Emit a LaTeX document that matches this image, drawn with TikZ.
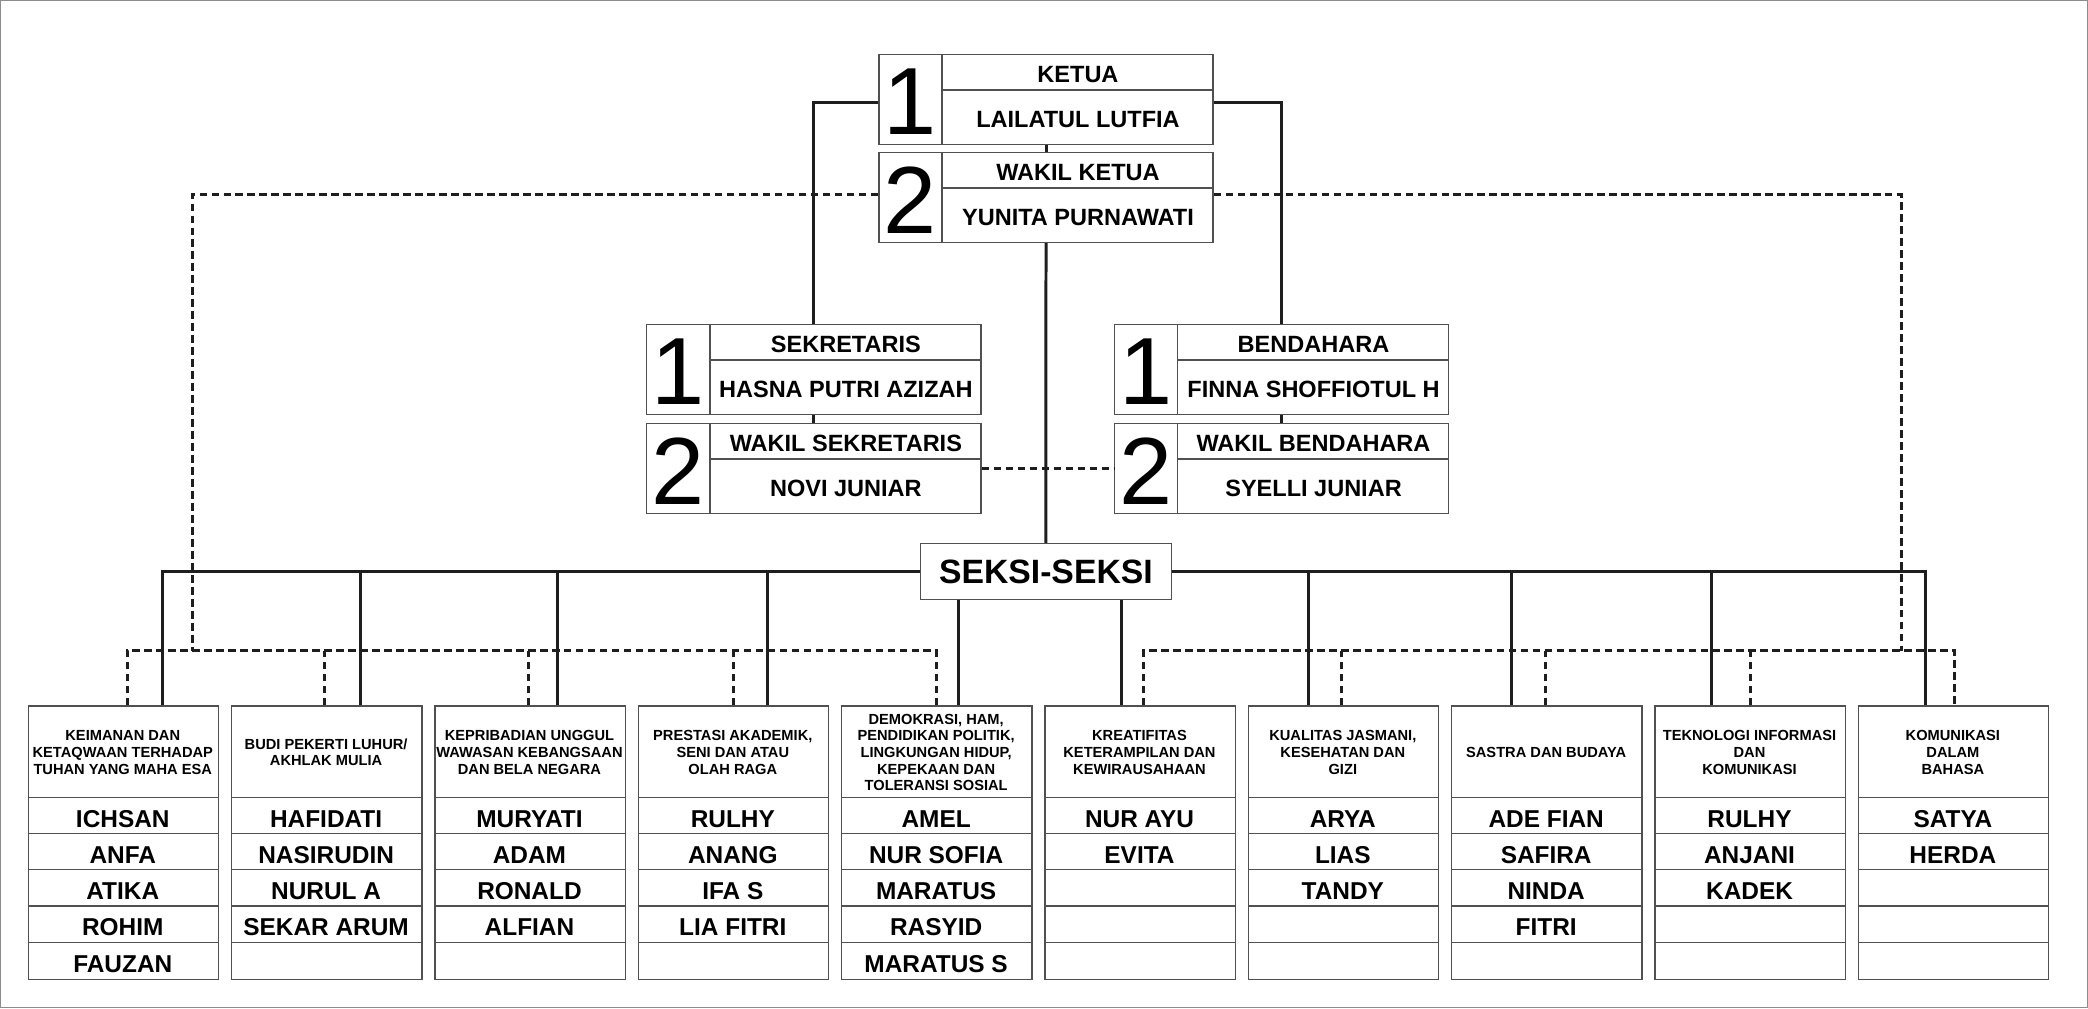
\documentclass[tikz,border=0pt]{standalone}
\usepackage{fontspec}
\setmainfont{Liberation Sans}
\usetikzlibrary{calc}
\definecolor{lnc}{HTML}{1E1E1E}
\definecolor{bxc}{HTML}{505050}
\tikzset{
  conn/.style={draw=lnc, line width=1.35pt},
  dsh/.style={draw=lnc, line width=1.35pt, dash pattern=on 3.4pt off 2pt},
  frame/.style={draw=bxc, line width=0.6pt, fill=white, rectangle, inner sep=0pt},
  cell/.style={draw=bxc, line width=0.6pt},
  toptxt/.style={font=\fontsize{10.6}{12}\selectfont\bfseries, text height=7.4pt, text depth=0pt, inner sep=0pt},
  numtxt/.style={font=\fontsize{43}{45}\selectfont, inner sep=0pt},
  nametxt/.style={font=\fontsize{11}{13}\selectfont\bfseries, text height=7.7pt, text depth=0pt, inner sep=0pt},
  hdrtxt/.style={font=\fontsize{6.6}{7.5}\selectfont\bfseries, align=center, inner sep=0pt},
  pics/orgbox/.style n args={3}{code={
    \node[frame, anchor=north west, minimum width=150.6pt, minimum height=40.5pt] (-f) at (0,0) {};
    \draw[cell] (48,0) -- (48,67.5);
    \draw[cell] (48,27) -- (251,27);
    \node[numtxt] (-n) at (24,36) {#1};
    \node[toptxt] (-t) at (150,15) {#2};
    \node[toptxt] (-p) at (150,48.8) {#3};
  }},
  pics/secbox/.style n args={6}{code={
    \node[frame, anchor=north west, minimum width=85.68pt, minimum height=123.12pt] (-f) at (0,0) {};
    \draw[cell] (0,69.1) -- (142.8,69.1);
    \draw[cell] (0,96.32) -- (142.8,96.32);
    \draw[cell] (0,123.54) -- (142.8,123.54);
    \draw[cell] (0,150.76) -- (142.8,150.76);
    \draw[cell] (0,177.98) -- (142.8,177.98);
    \node[hdrtxt] (-h) at (71.4,35.4) {#1};
    \node[nametxt] (-a) at (71.4,85.2) {#2};
    \node[nametxt] (-b) at (71.4,112.42) {#3};
    \node[nametxt] (-c) at (71.4,139.64) {#4};
    \node[nametxt] (-d) at (71.4,166.86) {#5};
    \node[nametxt] (-e) at (71.4,194.08) {#6};
  }}
}
\begin{document}
\begin{tikzpicture}[x=0.6pt, y=-0.6pt]
\useasboundingbox (0,0) rectangle (1568,757);
\draw[draw=black!45, line width=0.6pt] (0.6,0.6) rectangle (1567.4,756.4);

% top boxes
\pic (ket) at (659.5,40.6) {orgbox={1}{KETUA}{LAILATUL LUTFIA}};
\pic (wk) at (659.5,114.1) {orgbox={2}{WAKIL KETUA}{YUNITA PURNAWATI}};
\pic (sek) at (485.2,243.3) {orgbox={1}{SEKRETARIS}{HASNA PUTRI AZIZAH}};
\pic (ws) at (485.2,317.7) {orgbox={2}{WAKIL SEKRETARIS}{NOVI JUNIAR}};
\pic (ben) at (836.4,243.3) {orgbox={1}{BENDAHARA}{FINNA SHOFFIOTUL H}};
\pic (wb) at (836.4,317.7) {orgbox={2}{WAKIL BENDAHARA}{SYELLI JUNIAR}};

\node[frame, minimum width=113pt, minimum height=25.2pt,
      font=\fontsize{15.2}{18}\selectfont\bfseries, text height=10.6pt, text depth=0pt]
      (seksi) at (785.4,429.1) {SEKSI-SEKSI};

% section boxes
\pic (s1) at (20.8,529.6) {secbox={KEIMANAN DAN\\KETAQWAAN TERHADAP\\TUHAN YANG MAHA ESA}{ICHSAN}{ANFA}{ATIKA}{ROHIM}{FAUZAN}};
\pic (s2) at (173.5,529.6) {secbox={BUDI PEKERTI LUHUR/\\AKHLAK MULIA}{HAFIDATI}{NASIRUDIN}{NURUL A}{SEKAR ARUM}{}};
\pic (s3) at (326.2,529.6) {secbox={KEPRIBADIAN UNGGUL\\WAWASAN KEBANGSAAN\\DAN BELA NEGARA}{MURYATI}{ADAM}{RONALD}{ALFIAN}{}};
\pic (s4) at (478.9,529.6) {secbox={PRESTASI AKADEMIK,\\SENI DAN ATAU\\OLAH RAGA}{RULHY}{ANANG}{IFA S}{LIA FITRI}{}};
\pic (s5) at (631.6,529.6) {secbox={DEMOKRASI, HAM,\\PENDIDIKAN POLITIK,\\LINGKUNGAN HIDUP,\\KEPEKAAN DAN\\TOLERANSI SOSIAL}{AMEL}{NUR SOFIA}{MARATUS}{RASYID}{MARATUS S}};
\pic (s6) at (784.3,529.6) {secbox={KREATIFITAS\\KETERAMPILAN DAN\\KEWIRAUSAHAAN}{NUR AYU}{EVITA}{}{}{}};
\pic (s7) at (937.0,529.6) {secbox={KUALITAS JASMANI,\\KESEHATAN DAN\\GIZI}{ARYA}{LIAS}{TANDY}{}{}};
\pic (s8) at (1089.7,529.6) {secbox={SASTRA DAN BUDAYA}{ADE FIAN}{SAFIRA}{NINDA}{FITRI}{}};
\pic (s9) at (1242.4,529.6) {secbox={TEKNOLOGI INFORMASI\\DAN\\KOMUNIKASI}{RULHY}{ANJANI}{KADEK}{}{}};
\pic (s10) at (1395.1,529.6) {secbox={KOMUNIKASI\\DALAM\\BAHASA}{SATYA}{HERDA}{}{}{}};

% solid connectors top
\draw[conn] (ket-f.south) -- (wk-f.north);
\draw[conn] (wk-f.south) -- (seksi.north);
\draw[conn] ($(ket-f.west)+(0,2.2)$) -| (sek-f.north);
\draw[conn] ($(ket-f.east)+(0,2.2)$) -| (ben-f.north);
\draw[conn] (sek-f.south) -- (ws-f.north);
\draw[conn] (ben-f.south) -- (wb-f.north);

% dashed top
\coordinate (dL) at (144.2,488.6);
\coordinate (dR) at (1427.6,488.6);
\draw[dsh] ($(wk-f.west)+(0,-2.2)$) -| (dL);
\draw[dsh] ($(wk-f.east)+(0,-2.2)$) -| (dR);
\draw[dsh] (ws-f.east) -- (wb-f.west);

% solid drop points
\coordinate (t1) at ($(s1-f.north west)+(100.9,0)$);
\coordinate (t2) at ($(s2-f.north west)+(97.4,0)$);
\coordinate (t3) at ($(s3-f.north west)+(92.2,0)$);
\coordinate (t4) at ($(s4-f.north west)+(97.7,0)$);
\coordinate (t5) at ($(s5-f.north west)+(88.4,0)$);
\coordinate (t6) at ($(s6-f.north west)+(57.6,0)$);
\coordinate (t7) at ($(s7-f.north west)+(45.7,0)$);
\coordinate (t8) at ($(s8-f.north west)+(45.6,0)$);
\coordinate (t9) at ($(s9-f.north west)+(43.1,0)$);
\coordinate (t10) at ($(s10-f.north west)+(50.9,0)$);

\draw[conn] (t1) |- (seksi.west);
\draw[conn] (t10) |- (seksi.east);
\foreach \k in {2,3,4,7,8,9} \draw[conn] (t\k) -- (t\k |- seksi.west);
\draw[conn] (t5 |- seksi.south) -- (t5);
\draw[conn] (t6 |- seksi.south) -- (t6);

% dashed drop points
\coordinate (u1) at ($(s1-f.north west)+(74.7,0)$);
\coordinate (u2) at ($(s2-f.north west)+(70.4,0)$);
\coordinate (u3) at ($(s3-f.north west)+(70.8,0)$);
\coordinate (u4) at ($(s4-f.north west)+(71.9,0)$);
\coordinate (u5) at ($(s5-f.north west)+(71.6,0)$);
\coordinate (u6) at ($(s6-f.north west)+(74.7,0)$);
\coordinate (u7) at ($(s7-f.north west)+(70.7,0)$);
\coordinate (u8) at ($(s8-f.north west)+(71.1,0)$);
\coordinate (u9) at ($(s9-f.north west)+(72.0,0)$);
\coordinate (u10) at ($(s10-f.north west)+(72.5,0)$);

\draw[dsh] (u1) |- (u5 |- dL) -- (u5);
\draw[dsh] (u6) |- (u10 |- dR) -- (u10);
\foreach \k in {2,3,4,7,8,9} \draw[dsh] (u\k) -- (u\k |- dL);
\end{tikzpicture}
\end{document}
